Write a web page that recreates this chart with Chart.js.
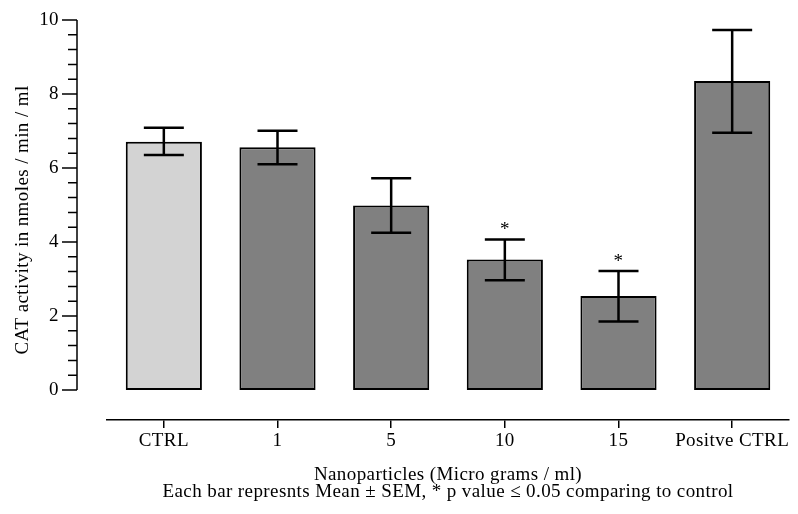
<!DOCTYPE html>
<html>
<head>
<meta charset="utf-8">
<title>CAT activity</title>
<script src="https://cdn.jsdelivr.net/npm/chart.js"></script>
<style>
  body { margin: 0; background: #fff; }
  #wrap { width: 798px; height: 514px; }
</style>
</head>
<body>
<div id="wrap"><canvas id="catChart"></canvas></div>
<script>
// values
const groups = ["CTRL", "1", "5", "10", "15", "Positve CTRL"];
const meanValues = [6.71, 6.56, 4.99, 3.53, 2.54, 8.35];
const errLow = [6.35, 6.10, 4.25, 2.97, 1.85, 6.95];
const errHigh = [7.09, 7.01, 5.72, 4.07, 3.22, 9.73];
const sigMarks = ["", "", "", "*", "*", ""];
const yTicks = [0, 2, 4, 6, 8, 10];
const yMinorStep = 0.4;

const serif = "'Liberation Serif', 'Times New Roman', serif";
const font = { family: serif, size: 19, lineHeight: 1.2 };

// the original was rendered with slightly looser text
const looseText = {
  id: 'looseText',
  beforeDraw(chart) { chart.ctx.letterSpacing = '0.4px'; }
};

// mean +/- SEM whiskers and the significance stars
const errorBars = {
  id: 'errorBars',
  afterDatasetsDraw(chart) {
    const { ctx } = chart;
    const y = chart.scales.y;
    const meta = chart.getDatasetMeta(0);
    ctx.save();
    ctx.strokeStyle = '#000';
    ctx.fillStyle = '#000';
    ctx.lineWidth = 2.5;
    ctx.font = "19px " + serif;
    ctx.textAlign = 'center';
    ctx.textBaseline = 'middle';
    meta.data.forEach((bar, i) => {
      const top = y.getPixelForValue(errHigh[i]);
      const bot = y.getPixelForValue(errLow[i]);
      ctx.beginPath();
      ctx.moveTo(bar.x, top); ctx.lineTo(bar.x, bot);
      ctx.moveTo(bar.x - 20, top); ctx.lineTo(bar.x + 20, top);
      ctx.moveTo(bar.x - 20, bot); ctx.lineTo(bar.x + 20, bot);
      ctx.stroke();
      if (sigMarks[i]) ctx.fillText(sigMarks[i], bar.x, top - 9);
    });
    ctx.restore();
  }
};

// detached y axis line with major + minor ticks, offset left of the plot
const offsetYAxis = {
  id: 'offsetYAxis',
  afterDraw(chart) {
    const { ctx, chartArea } = chart;
    const y = chart.scales.y;
    const x0 = chartArea.left - 30;
    const lo = yTicks[0], hi = yTicks[yTicks.length - 1];
    ctx.save();
    ctx.strokeStyle = '#000';
    ctx.lineWidth = 1.5;
    ctx.beginPath();
    ctx.moveTo(x0, y.getPixelForValue(lo));
    ctx.lineTo(x0, y.getPixelForValue(hi));
    for (let v = lo; v <= hi + 1e-9; v += yMinorStep) {
      const py = y.getPixelForValue(v);
      const major = yTicks.some(t => Math.abs(t - v) < 1e-6);
      ctx.moveTo(x0 - (major ? 15 : 9), py);
      ctx.lineTo(x0, py);
    }
    ctx.stroke();
    ctx.restore();
  }
};

new Chart(document.getElementById('catChart'), {
  type: 'bar',
  data: {
    labels: groups,
    datasets: [{
      data: meanValues,
      backgroundColor: groups.map((g, i) => i === 0 ? '#d3d3d3' : '#808080'),
      borderColor: '#000',
      borderWidth: 2,
      borderSkipped: false,
      categoryPercentage: 1,
      barPercentage: 0.67
    }]
  },
  options: {
    responsive: true,
    maintainAspectRatio: false,
    animation: false,
    layout: { padding: { top: 20, right: 9, bottom: 0, left: 0 } },
    plugins: {
      legend: { display: false },
      tooltip: { enabled: false }
    },
    scales: {
      x: {
        grid: { drawOnChartArea: false, offset: false, tickLength: 8, color: '#000', lineWidth: 1.5 },
        border: { color: '#000', width: 1.5 },
        ticks: { font, color: '#000', padding: 2, maxRotation: 0, minRotation: 0, autoSkip: false },
        title: {
          display: true,
          text: ['Nanoparticles (Micro grams / ml)', 'Each bar represnts Mean \u00b1 SEM, * p value \u2264 0.05 comparing to control'],
          font: { family: serif, size: 19, lineHeight: '17px' },
          color: '#000',
          padding: { top: 0, bottom: 13 }
        },
        afterFit: s => { s.height = 94; }
      },
      y: {
        min: -0.81,
        max: 10,
        afterBuildTicks: s => { s.ticks = yTicks.map(v => ({ value: v })); },
        // grid hidden; tickLength only pushes the labels clear of the offset axis
        grid: { display: false, drawTicks: true, tickLength: 46 },
        border: { display: false },
        ticks: { font, color: '#000', padding: 2 },
        title: {
          display: true,
          text: 'CAT activity in nmoles / min / ml',
          font,
          color: '#000',
          padding: { top: 12, bottom: 0 }
        },
        afterFit: s => { s.width = 107; }
      }
    }
  },
  plugins: [looseText, errorBars, offsetYAxis]
});
</script>
</body>
</html>
